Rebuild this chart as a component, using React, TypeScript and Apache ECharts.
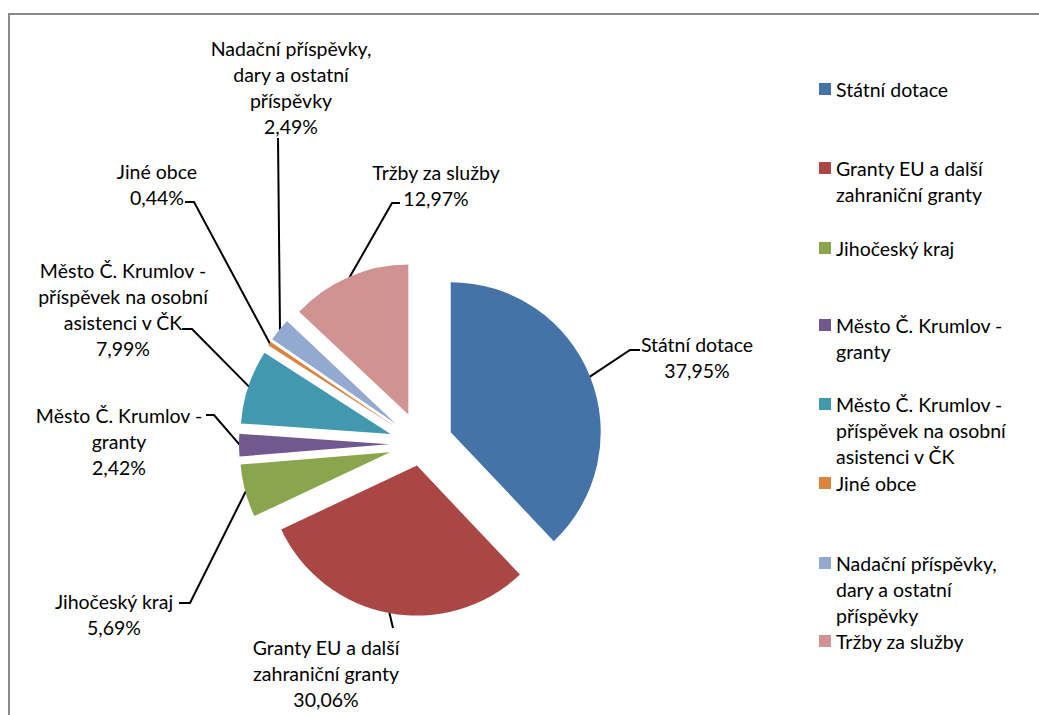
import React, { useEffect, useRef } from "react";
import * as echarts from "echarts";

// ---- data ----
const categories = [
  "Státní dotace",
  "Granty EU a další zahraniční granty",
  "Jihočeský kraj",
  "Město Č. Krumlov - granty",
  "Město Č. Krumlov - příspěvek na osobní asistenci v ČK",
  "Jiné obce",
  "Nadační příspěvky, dary a ostatní příspěvky",
  "Tržby za služby",
];
const values = [37.95, 30.06, 5.69, 2.42, 7.99, 0.44, 2.49, 12.97];

// wrapped text of the names (labels and legend)
const nameLines = [
  ["Státní dotace"],
  ["Granty EU a další", "zahraniční granty"],
  ["Jihočeský kraj"],
  ["Město Č. Krumlov -", "granty"],
  ["Město Č. Krumlov -", "příspěvek na osobní", "asistenci v ČK"],
  ["Jiné obce"],
  ["Nadační příspěvky,", "dary a ostatní", "příspěvky"],
  ["Tržby za služby"],
];

// ---- styles / layout ----
const colors = ["#4572A7", "#AA4643", "#89A54E", "#71588F", "#4198AF", "#DB843D", "#93A9CF", "#D19392"];
const FONT = "Lato";
const FONT_SIZE = 19.5;
const LH = 26;
const CENTER = [421, 444];
const RADIUS = 150;
// explosion distance of each slice (the second slice is pulled out less)
const explode = [32, 22, 32, 32, 32, 32, 32, 32];

// label block centres
const labelPos = [
  [697, 357],
  [326, 673],
  [114, 614],
  [119, 441],
  [123, 309],
  [157, 184],
  [291, 87],
  [436, 185],
];
// leader points after the anchor on the slice
const leaderPts = [
  [[630, 350], [640, 350]],
  [[393, 628]],
  [[190, 603], [179, 603]],
  [[214, 415], [206, 415]],
  [[192, 329], [182, 329]],
  [[194, 202], [185, 202]],
  [[278, 138]],
  [[392, 203], [400, 203]],
];
// legend: first line centre y
const legendY = [89, 168, 248, 325, 404, 483, 563, 641];
const LEGEND_X = 819;

const fmt = (v: number) => v.toFixed(2).replace(".", ",") + "%";
const CLEAR = "rgba(0,0,0,0)";

export default function App() {
  const ref = useRef<HTMLDivElement>(null);
  useEffect(() => {
    if (!ref.current) return;
    const chart = echarts.init(ref.current, null, { renderer: "svg" });
    const total = values.reduce((a, b) => a + b, 0);
    const midAngles: number[] = [];
    let cum = 0;
    values.forEach((v) => {
      const mid = 90 - (360 * (cum + v / 2)) / total;
      midAngles.push((mid * Math.PI) / 180);
      cum += v;
    });

    const legends = categories.map((name, i) => {
      const n = nameLines[i].length;
      return {
        data: [{ name, itemStyle: { color: colors[i] } }],
        left: LEGEND_X,
        top: legendY[i] - (n - 1) * LH - LH / 2,
        orient: "vertical",
        padding: 0,
        itemWidth: 12,
        itemHeight: 12,
        icon: "rect",
        selectedMode: false,
        formatter: () => "\n".repeat(n - 1) + nameLines[i].join("\n"),
        textStyle: { fontFamily: FONT, fontSize: FONT_SIZE, color: "#000", lineHeight: LH },
      };
    });

    const common = {
      type: "pie",
      center: CENTER,
      radius: RADIUS,
      startAngle: 90,
      clockwise: true,
      avoidLabelOverlap: false,
      emphasis: { disabled: true },
      legendHoverLink: false,
    };

    // one slice series per distinct explosion distance
    const offsets = Array.from(new Set(explode));
    const sliceSeries = offsets.map((off) => ({
      ...common,
      name: "slices" + off,
      selectedMode: "multiple",
      selectedOffset: off,
      label: { show: false },
      labelLine: { show: false },
      data: categories.map((name, i) => ({
        name,
        value: values[i],
        selected: true,
        itemStyle: { color: explode[i] === off ? colors[i] : CLEAR },
      })),
    }));

    chart.setOption({
      animation: false,
      backgroundColor: "#fff",
      color: colors,
      legend: legends,
      graphic: [
        {
          type: "rect",
          shape: { x: 9, y: 14, width: 1100, height: 800 },
          style: { fill: "none", stroke: "#8a8a8a", lineWidth: 2 },
          silent: true,
        },
      ],
      series: [
        ...sliceSeries,
        {
          ...common,
          name: "labels",
          silent: true,
          selectedMode: false,
          label: {
            show: true,
            position: "outside",
            fontFamily: FONT,
            fontSize: FONT_SIZE,
            lineHeight: LH,
            color: "#000",
            opacity: 1,
            align: "center",
            formatter: (p: any) => nameLines[p.dataIndex].join("\n") + "\n" + fmt(p.value),
          },
          labelLine: { show: true, lineStyle: { color: "#000", width: 2, opacity: 1 } },
          labelLayout: (p: any) => {
            const i = p.dataIndex;
            const a = midAngles[i];
            const r = RADIUS + explode[i] - 1;
            const anchor = [CENTER[0] + r * Math.cos(a), CENTER[1] - r * Math.sin(a)];
            return {
              x: labelPos[i][0],
              y: labelPos[i][1],
              align: "center",
              verticalAlign: "middle",
              labelLinePoints: [anchor, ...leaderPts[i]],
            };
          },
          data: categories.map((name, i) => ({
            name,
            value: values[i],
            itemStyle: { color: CLEAR },
          })),
        },
      ],
    });
    return () => chart.dispose();
  }, []);
  return (
    <div
      ref={ref}
      style={{ position: "fixed", left: 0, top: 0, width: 1039, height: 715 }}
    />
  );
}
